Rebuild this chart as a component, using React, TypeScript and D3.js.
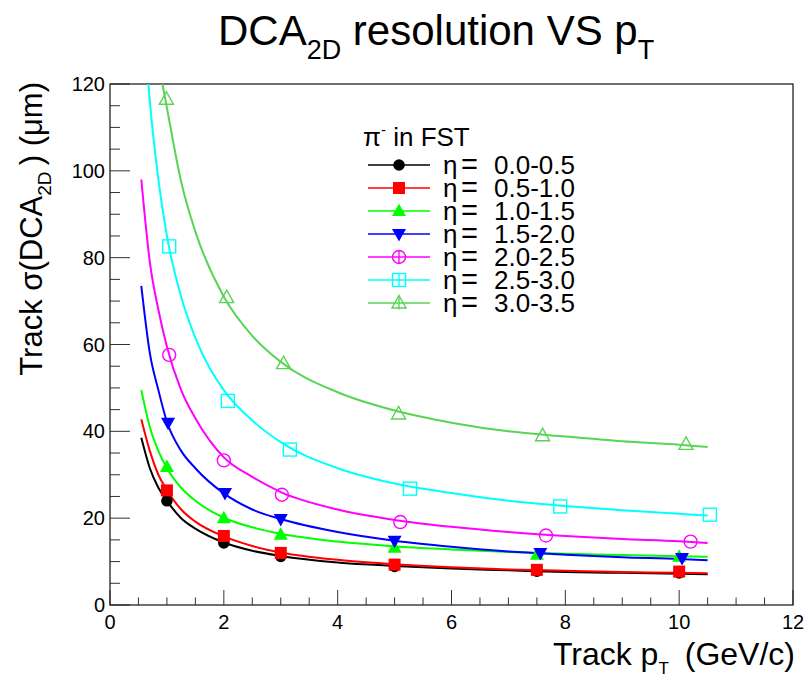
import React from "react";
import * as d3 from "d3";

const curvePt = [0.55, 0.7, 0.85, 1, 1.25, 1.5, 2, 2.5, 3, 4, 5, 6, 7, 8, 9, 10, 10.5];

// fitted curves, sigma(DCA2D) in um (null = not drawn)
const fitEta00 = [38.5, 31.5, 27, 24, 20, 17.6, 14.4, 12.5, 11.3, 9.8, 9, 8.4, 8, 7.6, 7.4, 7.2, 7.1];
const fitEta05 = [42.8, 35.5, 30, 26.5, 22, 19.2, 15.8, 13.6, 12.1, 10.4, 9.4, 8.7, 8.2, 7.9, 7.6, 7.4, 7.3];
const fitEta10 = [49.5, 41, 35.5, 31.5, 27, 24, 20.1, 17.9, 16.4, 14.6, 13.5, 12.8, 12.2, 11.8, 11.5, 11.2, 11.1];
const fitEta15 = [73.5, 58, 49.5, 42.2, 35.5, 31.5, 25.7, 22, 19.8, 16.8, 14.8, 13.4, 12.3, 11.6, 11.0, 10.6, 10.3];
const fitEta20 = [98, 79, 68, 59.5, 49.5, 43, 34, 29.5, 26, 22, 19.6, 18, 16.8, 15.9, 15.2, 14.7, 14.3];
const fitEta25 = [143, 116, 98, 85, 71, 61.5, 49.5, 42.5, 37.5, 31.5, 28, 25.8, 24, 22.8, 21.8, 21, 20.6];
const fitEta30 = [null, null, 125, 114.5, 97.5, 86, 71, 62, 56, 49, 44.8, 42, 40, 38.8, 37.7, 36.9, 36.4];

// measured points
const ptEta00 = [1.0, 2.0, 3.0, 5.0, 7.5, 10.0];
const valEta00 = [24, 14.3, 11.2, 8.9, 7.8, 7.4];
const ptEta05 = [1.0, 2.0, 3.0, 5.0, 7.5, 10.0];
const valEta05 = [26.4, 15.9, 12.0, 9.3, 8.1, 7.7];
const ptEta10 = [1.0, 2.0, 3.0, 5.0, 7.5, 10.0];
const valEta10 = [31.8, 20.0, 16.2, 13.2, 11.6, 11.1];
const ptEta15 = [1.02, 2.02, 3.0, 5.0, 7.56, 10.05];
const valEta15 = [42.0, 25.8, 19.8, 14.8, 12.0, 10.8];
const ptEta20 = [1.04, 2.0, 3.02, 5.1, 7.66, 10.2];
const valEta20 = [57.6, 33.3, 25.4, 19.1, 16.0, 14.6];
const ptEta25 = [1.04, 2.07, 3.16, 5.27, 7.91, 10.54];
const valEta25 = [82.6, 47.0, 35.8, 26.8, 22.7, 20.8];
const ptEta30 = [0.99, 2.05, 3.05, 5.07, 7.6, 10.12];
const valEta30 = [116.5, 70.8, 55.6, 44.0, 39.0, 37.0];

const etaLabels = ["0.0-0.5", "0.5-1.0", "1.0-1.5", "1.5-2.0", "2.0-2.5", "2.5-3.0", "3.0-3.5"];
const colors = ["#000000", "#ff0000", "#00ff00", "#0000ff", "#ff00ff", "#00ffff", "#59d454"];
const shapes = ["circle", "square", "triUp", "triDown", "openCircle", "openSquare", "openTriUp"];

const series = [
  { fit: fitEta00, pt: ptEta00, val: valEta00 },
  { fit: fitEta05, pt: ptEta05, val: valEta05 },
  { fit: fitEta10, pt: ptEta10, val: valEta10 },
  { fit: fitEta15, pt: ptEta15, val: valEta15 },
  { fit: fitEta20, pt: ptEta20, val: valEta20 },
  { fit: fitEta25, pt: ptEta25, val: valEta25 },
  { fit: fitEta30, pt: ptEta30, val: valEta30 },
];

const width = 808;
const height = 680;
const left = 110;
const right = 793;
const top = 84;
const bottom = 605;
const font = "'Liberation Sans', Arial, Helvetica, sans-serif";

const x = d3.scaleLinear().domain([0, 12]).range([left, right]);
const y = d3.scaleLinear().domain([0, 120]).range([bottom, top]);

const Marker = ({ shape, cx, cy, color }: { shape: string; cx: number; cy: number; color: string }) => {
  const open = shape.startsWith("open");
  const fill = open ? "none" : color;
  const stroke = color;
  const sw = open ? 1.4 : 0;
  if (shape === "circle") return <circle cx={cx} cy={cy} r={5.8} fill={fill} />;
  if (shape === "openCircle") return <circle cx={cx} cy={cy} r={6.5} fill="none" stroke={stroke} strokeWidth={sw} />;
  if (shape === "square" || shape === "openSquare") {
    const s = shape === "square" ? 12 : 13;
    return <rect x={cx - s / 2} y={cy - s / 2} width={s} height={s} fill={fill} stroke={open ? stroke : "none"} strokeWidth={sw} />;
  }
  if (shape === "triUp" || shape === "openTriUp") {
    const p = `M${cx},${cy - 7.5}L${cx + 7},${cy + 5}L${cx - 7},${cy + 5}Z`;
    return <path d={p} fill={fill} stroke={open ? stroke : "none"} strokeWidth={sw} />;
  }
  const p = `M${cx},${cy + 7.5}L${cx + 7},${cy - 5}L${cx - 7},${cy - 5}Z`;
  return <path d={p} fill={fill} />;
};

const App = () => {
  const line = d3
    .line<[number, number | null]>()
    .defined((d) => d[1] !== null)
    .x((d) => x(d[0]))
    .y((d) => y(d[1] as number))
    .curve(d3.curveMonotoneX);

  const xMajor = d3.range(0, 12.001, 2);
  const xMinor = d3.range(0, 12.001, 0.5);
  const yMajor = d3.range(0, 120.001, 20);
  const yMinor = d3.range(0, 120.001, 5);

  const legX0 = 368;
  const legX1 = 430;
  const legMid = 399;
  const legY0 = 165;
  const legStep = 23;

  return (
    <svg width={width} height={height} style={{ position: "absolute", left: 0, top: 0, background: "#fff" }} fontFamily={font}>
      <defs>
        <clipPath id="plotClip">
          <rect x={left} y={top} width={right - left} height={bottom - top} />
        </clipPath>
      </defs>

      {/* title */}
      <text x={218} y={45} fontSize={42} fill="#000">
        DCA
        <tspan dy={14} fontSize={27}>2D</tspan>
        <tspan dy={-14}> resolution VS p</tspan>
        <tspan dy={14} fontSize={27}>T</tspan>
      </text>

      {/* ticks */}
      {xMinor.map((t) => (
        <line key={"xm" + t} x1={x(t)} x2={x(t)} y1={bottom} y2={bottom - (t % 2 === 0 ? 15 : 7.5)} stroke="#333" strokeWidth={1} />
      ))}
      {yMinor.map((t) => (
        <line key={"ym" + t} x1={left} x2={left + (t % 20 === 0 ? 20 : 10)} y1={y(t)} y2={y(t)} stroke="#333" strokeWidth={1} />
      ))}
      {xMajor.map((t) => (
        <text key={"xl" + t} x={x(t)} y={629} fontSize={20} textAnchor="middle" fill="#000">
          {t}
        </text>
      ))}
      {yMajor.map((t) => (
        <text key={"yl" + t} x={105} y={y(t) + 7} fontSize={20} textAnchor="end" fill="#000">
          {t}
        </text>
      ))}

      {/* frame */}
      <rect x={left} y={top} width={right - left} height={bottom - top} fill="none" stroke="#222" strokeWidth={1.3} />

      {/* fits and points */}
      <g clipPath="url(#plotClip)">
        {series.map((s, i) => (
          <path
            key={"fit" + i}
            d={line(curvePt.map((p, k) => [p, s.fit[k]] as [number, number | null])) || ""}
            fill="none"
            stroke={colors[i]}
            strokeWidth={2}
          />
        ))}
        {series.map((s, i) =>
          s.pt.map((p, k) => <Marker key={"m" + i + "-" + k} shape={shapes[i]} cx={x(p)} cy={y(s.val[k])} color={colors[i]} />)
        )}
      </g>

      {/* axis titles */}
      <text x={795} y={665} fontSize={32} textAnchor="end" fill="#000">
        Track p
        <tspan dy={9} fontSize={17}>T</tspan>
        <tspan dy={-9}>{"\u2002"}(GeV/c)</tspan>
      </text>
      <text transform={`translate(42,${top - 2}) rotate(-90)`} fontSize={31} textAnchor="end" fill="#000">
        Track σ(DCA
        <tspan dy={9} fontSize={19}>2D</tspan>
        <tspan dy={-9}>{"\u2009"}) (μm)</tspan>
      </text>

      {/* legend */}
      <text x={363} y={146} fontSize={26} fill="#000">
        π<tspan dy={-11} fontSize={15}>-</tspan>
        <tspan dy={11}> in FST</tspan>
      </text>
      {etaLabels.map((lab, i) => {
        const ly = legY0 + i * legStep;
        const open = shapes[i].startsWith("open");
        return (
          <g key={"leg" + i}>
            <line x1={legX0} x2={legX1} y1={ly} y2={ly} stroke={colors[i]} strokeWidth={1.5} />
            {open && <line x1={legMid} x2={legMid} y1={ly - 6.5} y2={ly + 6.5} stroke={colors[i]} strokeWidth={1.4} />}
            <Marker shape={shapes[i]} cx={legMid} cy={ly} color={colors[i]} />
            <text x={443} y={ly + 9} fontSize={26} fill="#000">
              η<tspan x={461} fontSize={29}>=</tspan>
              <tspan x={494}>{lab}</tspan>
            </text>
          </g>
        );
      })}
    </svg>
  );
};

export default App;
